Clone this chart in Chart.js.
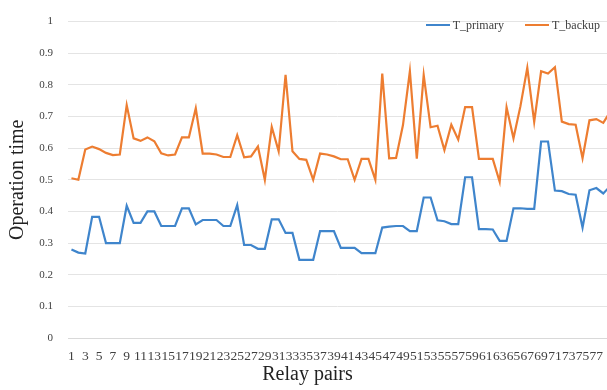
<!DOCTYPE html>
<html>
<head>
<meta charset="utf-8">
<title>Operation time</title>
<script src="https://cdn.jsdelivr.net/npm/chart.js@4.4.0/dist/chart.umd.min.js"></script>
<style>
    body { margin: 0; background: #fff; overflow: hidden; }
    .wrap { position: relative; width: 607px; height: 390px; }
    canvas { display: block; }
    #legend {
        position: absolute;
        top: 17px;
        right: 7px;
        display: flex;
        gap: 21px;
        font: 12px 'Liberation Serif', 'Times New Roman', serif;
        color: #404040;
        line-height: 16px;
    }
    #legend .item { display: flex; align-items: center; }
    #legend i { display: inline-block; width: 24px; height: 2px; margin-right: 3px; }
</style>
</head>
<body>
<div class="wrap">
    <canvas id="myChart" width="607" height="390"></canvas>
    <div id="legend"></div>
</div>
<script>
// relay pair numbers 1..79
const relayPairs = Array.from({ length: 79 }, (_, i) => i + 1);

const tPrimary = [
    0.28, 0.27, 0.267, 0.383, 0.383, 0.30, 0.30, 0.30, 0.418, 0.364,
    0.364, 0.40, 0.40, 0.354, 0.354, 0.354, 0.41, 0.41, 0.359, 0.373,
    0.373, 0.373, 0.354, 0.354, 0.42, 0.294, 0.294, 0.282, 0.282, 0.375,
    0.375, 0.332, 0.332, 0.247, 0.247, 0.247, 0.338, 0.338, 0.338, 0.285,
    0.285, 0.285, 0.268, 0.268, 0.268, 0.349, 0.352, 0.354, 0.354, 0.338,
    0.338, 0.444, 0.444, 0.372, 0.369, 0.36, 0.36, 0.508, 0.508, 0.344,
    0.344, 0.343, 0.307, 0.307, 0.41, 0.41, 0.408, 0.408, 0.621, 0.621,
    0.466, 0.464, 0.455, 0.453, 0.349, 0.467, 0.474, 0.457, 0.48
];

const tBackup = [
    0.505, 0.50, 0.596, 0.605, 0.597, 0.585, 0.578, 0.58, 0.736, 0.631,
    0.623, 0.634, 0.622, 0.584, 0.577, 0.58, 0.634, 0.634, 0.726, 0.583,
    0.583, 0.58, 0.572, 0.572, 0.641, 0.571, 0.574, 0.605, 0.50, 0.667,
    0.59, 0.832, 0.59, 0.566, 0.563, 0.50, 0.583, 0.58, 0.574, 0.565,
    0.565, 0.50, 0.566, 0.566, 0.50, 0.836, 0.568, 0.569, 0.673, 0.843,
    0.567, 0.831, 0.666, 0.671, 0.594, 0.674, 0.627, 0.73, 0.73, 0.566,
    0.566, 0.566, 0.494, 0.729, 0.631, 0.732, 0.854, 0.683, 0.843, 0.836,
    0.856, 0.684, 0.676, 0.674, 0.568, 0.688, 0.692, 0.68, 0.715
];

// odd pair numbers shown under the axis
const xTickLabels = relayPairs.filter(n => n % 2 === 1 && n <= 77);

const serif = "'Liberation Serif', 'Times New Roman', serif";

const datasets = [
    {
        label: "T_primary",
        data: tPrimary,
        borderColor: "#3f85cc",
        backgroundColor: "#3f85cc",
        borderWidth: 2.2,
        pointRadius: 0,
        tension: 0
    },
    {
        label: "T_backup",
        data: tBackup,
        borderColor: "#ed7d31",
        backgroundColor: "#ed7d31",
        borderWidth: 2.2,
        pointRadius: 0,
        tension: 0
    }
];

const config = {
    type: "line",
    data: { labels: relayPairs, datasets },
    options: {
        responsive: false,
        animation: false,
        layout: { padding: { top: 14, right: 0, bottom: 0, left: 0 } },
        plugins: {
            tooltip: { enabled: false },
            legend: { display: false }
        },
        scales: {
            x: {
                type: "linear",
                min: 0.5,
                max: 78.54,
                afterBuildTicks: s => {
                    s.ticks = xTickLabels.map(v => ({ value: v }));
                },
                afterFit: s => {
                    s.height = 52;
                    s.paddingLeft = 0;
                    s.paddingRight = 0;
                },
                grid: { display: false, drawTicks: false },
                border: { display: true, color: "#d9d9d9" },
                ticks: {
                    autoSkip: false,
                    maxRotation: 0,
                    padding: 10,
                    color: "#404040",
                    font: { family: serif, size: 13.5 }
                },
                title: {
                    display: true,
                    // trailing spaces pull the centred title a little to the left
                    text: "Relay pairs" + "\u00a0".repeat(12),
                    color: "#222",
                    padding: { top: 0, bottom: 3 },
                    font: { family: serif, size: 20 }
                }
            },
            y: {
                min: 0,
                max: 1,
                afterFit: s => { s.width = 68; },
                grid: { color: "#e4e4e4", drawTicks: false },
                border: { display: false },
                ticks: {
                    stepSize: 0.1,
                    padding: 15,
                    color: "#404040",
                    font: { family: serif, size: 11 },
                    callback: v => String(+v.toFixed(1))
                },
                title: {
                    display: true,
                    text: "Operation time",
                    color: "#222",
                    padding: { top: 6, bottom: 0 },
                    font: { family: serif, size: 20 }
                }
            }
        }
    }
};

const myChart = document.querySelector("#myChart");
const chart = new Chart(myChart, config);

// legend drawn over the plot, top right
const legendBox = document.querySelector("#legend");
chart.data.datasets.forEach(ds => {
    legendBox.innerHTML += `<span class="item"><i style="background:${ds.borderColor}"></i>${ds.label}</span>`;
});
</script>
</body>
</html>
